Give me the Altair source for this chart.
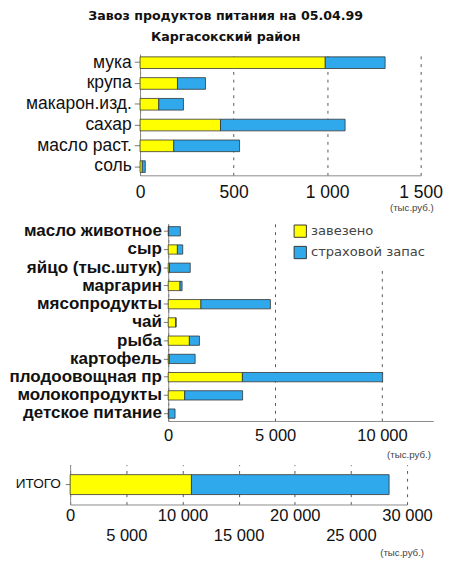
import altair as alt
import pandas as pd

title_lines = ["Завоз продуктов питания на 05.04.99", "Каргасокский район"]
series = ["завезено", "страховой запас"]
colors = ["#FFFF00", "#2FA8EC"]
unit = "(тыс.руб.)"

top_cats = ["мука", "крупа", "макарон.изд.", "сахар", "масло раст.", "соль"]
top_delivered = [990, 200, 100, 430, 180, 12]
top_reserve = [320, 150, 132, 666, 352, 16]
top_ticks = [0, 500, 1000, 1500]

mid_cats = ["масло животное", "сыр", "яйцо (тыс.штук)", "маргарин", "мясопродукты",
            "чай", "рыба", "картофель", "плодоовощная пр", "молокопродукты",
            "детское питание"]
mid_delivered = [20, 430, 60, 550, 1530, 350, 990, 50, 3470, 770, 20]
mid_reserve = [550, 250, 970, 100, 3250, 20, 470, 1210, 6560, 2710, 300]
mid_ticks = [0, 5000, 10000]

total_cats = ["ИТОГО"]
total_delivered = [10800]
total_reserve = [17600]
total_ticks = [0, 5000, 10000, 15000, 20000, 25000, 30000]

FONT = "Liberation Sans"
TITLE_FONT = "DejaVu Sans"


def long_table(cats, delivered, reserve):
    rows = []
    for c, a, b in zip(cats, delivered, reserve):
        rows.append({"cat": c, "series": series[0], "value": a, "ord": 0})
        rows.append({"cat": c, "series": series[1], "value": b, "ord": 1})
    return pd.DataFrame(rows)


fmt = "replace(format(datum.value, ','), ',', ' ')"
color_scale = alt.Scale(domain=series, range=colors)


def panel(df, cats, domain_max, ticks, x_start, x_end, h, y_font, y_weight, y_pad,
          y_tick, x_font, x_pad, pad_inner, pad_outer, title_x, title_y, legend,
          label_expr=fmt):
    return alt.Chart(df).mark_bar(stroke="#333333", strokeWidth=0.8).encode(
        y=alt.Y("cat:N", sort=cats,
                scale=alt.Scale(paddingInner=pad_inner, paddingOuter=pad_outer),
                axis=alt.Axis(title=None, labelFontSize=y_font, labelFontWeight=y_weight,
                              labelColor="#111111", labelPadding=y_pad, tickSize=y_tick,
                              tickColor="#777777", domainColor="#888888", labelFont=FONT,
                              labelLimit=300, offset=-x_start)),
        x=alt.X("value:Q", stack="zero",
                scale=alt.Scale(domain=[0, domain_max], nice=False, zero=True,
                                range=[x_start, x_end]),
                axis=alt.Axis(values=ticks, labelExpr=label_expr, ticks=False,
                              grid=True, gridDash=[3, 5], gridColor="#555555",
                              domainColor="#888888", labelFontSize=x_font,
                              labelColor="#111111", labelFont=FONT, labelPadding=x_pad,
                              labelOverlap=False, labelLineHeight=20, labelFlush=False,
                              title=unit, titleFont=FONT, titleFontSize=10,
                              titleFontWeight="normal", titleColor="#444444",
                              titleAlign="right", titleBaseline="middle",
                              titleX=title_x, titleY=title_y)),
        color=alt.Color("series:N", scale=color_scale, legend=legend),
        order=alt.Order("ord:Q"),
    ).properties(width=x_end, height=h)


legend_mid = alt.Legend(orient="none", legendX=223, legendY=-6.5, title=None,
                        symbolType="square", symbolSize=160, symbolStrokeColor="#333333",
                        symbolStrokeWidth=1, labelFontSize=13.5, labelColor="#444444",
                        labelFont=TITLE_FONT, rowPadding=4, fillColor="white", padding=7)

# shared plot origin; each panel's value axis starts where the reference's does
top = panel(long_table(top_cats, top_delivered, top_reserve), top_cats, 1500, top_ticks,
            72, 361, 125, 18, "normal", 3, 6, 18, 9, 0.44, 0.14, 374, 33, None)
mid = panel(long_table(mid_cats, mid_delivered, mid_reserve), mid_cats, 12400, mid_ticks,
            101, 374, 203, 17.5, "bold", 2, 5, 17, 7.5, 0.49, 0.15, 371, 35, legend_mid)
bot_expr = ("datum.value % 10000 == 0 ? " + fmt + " : ['', " + fmt + "]")
bot = panel(long_table(total_cats, total_delivered, total_reserve), total_cats, 30000,
            total_ticks, 0, 347, 41, 14, "normal", 5, 5, 17, 4, 0.0, 0.5, 364, 50, None,
            label_expr=bot_expr)

chart = alt.vconcat(top, mid, bot, spacing=5).resolve_legend(
    color="independent").properties(
    title=alt.Title(text=title_lines, font=TITLE_FONT, fontSize=13, fontWeight="bold",
                    color="#111111", lineHeight=21, anchor="middle", offset=10),
    padding={"top": -6, "left": 0, "right": 0, "bottom": 0},
).configure(background="white", view=alt.ViewConfig(strokeOpacity=0))

chart.save("out.html", embed_options={"renderer": "svg", "actions": False})
